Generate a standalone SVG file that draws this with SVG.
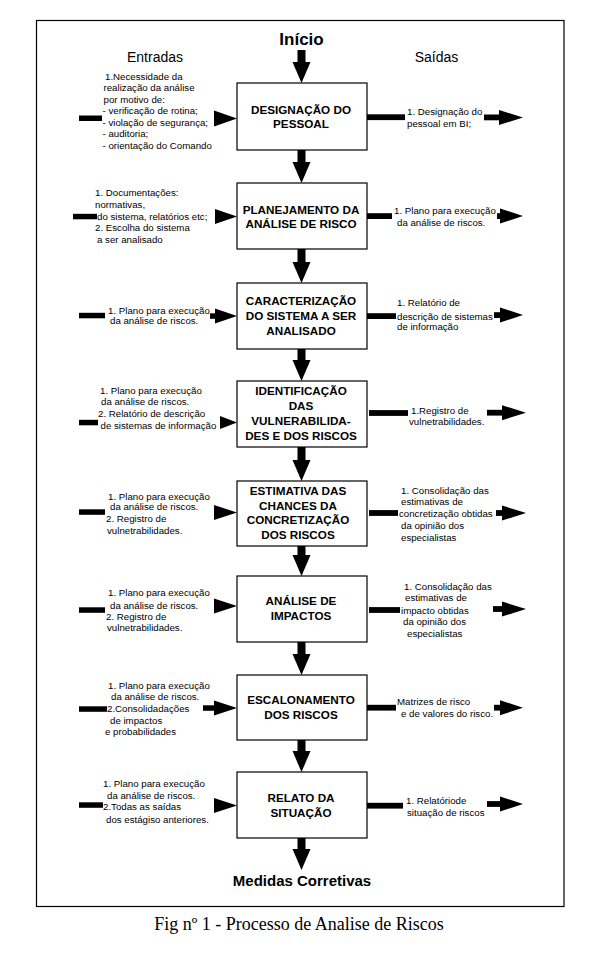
<svg xmlns="http://www.w3.org/2000/svg" width="597" height="954" viewBox="0 0 597 954">
<style>
.bg{fill:#fff}
.frame{fill:none;stroke:#000;stroke-width:1.2}
.box{fill:#fff;stroke:#000;stroke-width:1.2}
.bt{font-family:"Liberation Sans",Arial,sans-serif;font-weight:bold;font-size:11.7px;text-anchor:middle;fill:#000}
.st{font-family:"Liberation Sans",Arial,sans-serif;font-size:9.7px;fill:#000}
.hd{font-family:"Liberation Sans",Arial,sans-serif;font-size:14px;text-anchor:middle;fill:#000}
.tt{font-family:"Liberation Sans",Arial,sans-serif;font-weight:bold;text-anchor:middle;fill:#000}
.cap{font-family:"Liberation Serif","Times New Roman",serif;font-size:18px;text-anchor:middle;fill:#000}
.k{fill:#000}
</style>
<rect class="bg" x="0" y="0" width="597" height="954"/>
<rect class="frame" x="36.5" y="20.5" width="527.5" height="886"/>

<g id="labels">
<text class="tt" x="301.5" y="45" font-size="17">Início</text>
<text class="hd" x="155" y="62">Entradas</text>
<text class="hd" x="436.5" y="62">Saídas</text>
<text class="tt" x="302" y="886" font-size="15">Medidas Corretivas</text>
<text class="cap" x="299" y="930">Fig nº 1 - Processo de Analise de Riscos</text>
</g>

<g id="node-designacao">
<rect class="box" x="237" y="83" width="130" height="67"/>
<text class="bt" x="301" y="113.5">DESIGNAÇÃO DO</text>
<text class="bt" x="301" y="127.5">PESSOAL</text>
</g>
<g id="node-planejamento">
<rect class="box" x="237" y="183" width="130" height="66"/>
<text class="bt" x="301" y="214">PLANEJAMENTO DA</text>
<text class="bt" x="301" y="228">ANÁLISE DE RISCO</text>
</g>
<g id="node-caracterizacao">
<rect class="box" x="237" y="283" width="130" height="66"/>
<text class="bt" x="301" y="305">CARACTERIZAÇÃO</text>
<text class="bt" x="301" y="320">DO SISTEMA A SER</text>
<text class="bt" x="301" y="335">ANALISADO</text>
</g>
<g id="node-identificacao">
<rect class="box" x="237" y="381" width="130" height="66"/>
<text class="bt" x="301" y="395">IDENTIFICAÇÃO</text>
<text class="bt" x="301" y="410">DAS</text>
<text class="bt" x="301" y="425">VULNERABILIDA-</text>
<text class="bt" x="301" y="440">DES E DOS RISCOS</text>
</g>
<g id="node-estimativa">
<rect class="box" x="237" y="481" width="130" height="65"/>
<text class="bt" x="298" y="495">ESTIMATIVA DAS</text>
<text class="bt" x="298" y="509.5">CHANCES DA</text>
<text class="bt" x="298" y="524">CONCRETIZAÇÃO</text>
<text class="bt" x="298" y="538.5">DOS RISCOS</text>
</g>
<g id="node-analise">
<rect class="box" x="237" y="576" width="130" height="66"/>
<text class="bt" x="301" y="605">ANÁLISE DE</text>
<text class="bt" x="301" y="620">IMPACTOS</text>
</g>
<g id="node-escalonamento">
<rect class="box" x="237" y="675" width="130" height="65"/>
<text class="bt" x="301" y="703.5">ESCALONAMENTO</text>
<text class="bt" x="301" y="719">DOS RISCOS</text>
</g>
<g id="node-relato">
<rect class="box" x="237" y="772" width="130" height="66"/>
<text class="bt" x="301" y="802">RELATO DA</text>
<text class="bt" x="301" y="817">SITUAÇÃO</text>
</g>

<g id="connectors">
<g id="flow">
<rect class="k" x="297.5" y="50" width="8" height="12"/><polygon class="k" points="292.5,62 310.5,62 301.5,83"/>
<rect class="k" x="297.5" y="150" width="8" height="12"/><polygon class="k" points="292.5,162 310.5,162 301.5,183"/>
<rect class="k" x="297.5" y="249" width="8" height="13"/><polygon class="k" points="292.5,262 310.5,262 301.5,283"/>
<rect class="k" x="297.5" y="349" width="8" height="11"/><polygon class="k" points="292.5,360 310.5,360 301.5,381"/>
<rect class="k" x="297.5" y="447" width="8" height="13"/><polygon class="k" points="292.5,460 310.5,460 301.5,481"/>
<rect class="k" x="297.5" y="546" width="8" height="9"/><polygon class="k" points="292.5,555 310.5,555 301.5,576"/>
<rect class="k" x="297.5" y="642" width="8" height="12"/><polygon class="k" points="292.5,654 310.5,654 301.5,675"/>
<rect class="k" x="297.5" y="740" width="8" height="11"/><polygon class="k" points="292.5,751 310.5,751 301.5,772"/>
<rect class="k" x="297.5" y="838" width="8" height="11"/><polygon class="k" points="292.5,849 310.5,849 301.5,870"/>
</g>

<g id="in-1">
<rect class="k" x="79" y="115.5" width="23" height="5.5"/>
<polygon class="k" points="214,110.5 237,118.5 214,126.5"/>
<text class="st" x="105" y="79.5">1.Necessidade da</text>
<text class="st" x="103.5" y="91">realização da análise</text>
<text class="st" x="103.5" y="102.5">por motivo de:</text>
<text class="st" x="102.5" y="114">- verificação de rotina;</text>
<text class="st" x="102.5" y="125.5">- violação de segurança;</text>
<text class="st" x="102.5" y="137">- auditoria;</text>
<text class="st" x="102.5" y="148.8">- orientação do Comando</text>
</g>
<g id="in-2">
<rect class="k" x="73" y="213.8" width="24" height="5.5"/>
<polygon class="k" points="215,209 237,216.5 215,224"/>
<text class="st" x="95" y="196">1. Documentações:</text>
<text class="st" x="95" y="207.5">normativas,</text>
<text class="st" x="97" y="219.5">do sistema, relatórios etc;</text>
<text class="st" x="95" y="231">2. Escolha do sistema</text>
<text class="st" x="97" y="243">a ser analisado</text>
</g>
<g id="in-3">
<rect class="k" x="79" y="312.8" width="26" height="5.5"/>
<rect class="k" x="210" y="313.3" width="6" height="5.5"/>
<polygon class="k" points="215,308.5 237,316 215,323.5"/>
<text class="st" x="108" y="313.5">1. Plano para execução</text>
<text class="st" x="110" y="324">da análise de riscos.</text>
</g>
<g id="in-4">
<rect class="k" x="79" y="419.8" width="19" height="5.5"/>
<polygon class="k" points="220,416 237,422.5 220,429"/>
<text class="st" x="100" y="393.5">1. Plano para execução</text>
<text class="st" x="101" y="405">da análise de riscos.</text>
<text class="st" x="98" y="416.5">2. Relatório de descrição</text>
<text class="st" x="100.5" y="429">de sistemas de informação</text>
</g>
<g id="in-5">
<rect class="k" x="79" y="509.3" width="26" height="5.5"/>
<polygon class="k" points="214,505 237,512.5 214,520"/>
<text class="st" x="108" y="499.5">1. Plano para execução</text>
<text class="st" x="110" y="510">da análise de riscos.</text>
<text class="st" x="106" y="521.5">2. Registro de</text>
<text class="st" x="107" y="533.5">vulnetrabilidades.</text>
</g>
<g id="in-6">
<rect class="k" x="79" y="607.3" width="26" height="5.5"/>
<polygon class="k" points="214,598.5 237,606 214,613.5"/>
<text class="st" x="108" y="595.5">1. Plano para execução</text>
<text class="st" x="110" y="608.5">da análise de riscos.</text>
<text class="st" x="106" y="619.5">2. Registro de</text>
<text class="st" x="107" y="631">vulnetrabilidades.</text>
</g>
<g id="in-7">
<rect class="k" x="79" y="706.3" width="28" height="5.5"/>
<rect class="k" x="203" y="705.3" width="12" height="5.5"/>
<polygon class="k" points="214,700.5 237,708 214,715.5"/>
<text class="st" x="108" y="688.5">1. Plano para execução</text>
<text class="st" x="111" y="700">da análise de riscos.</text>
<text class="st" x="107" y="711.5">2.Consolidadações</text>
<text class="st" x="110" y="723.5">de impactos</text>
<text class="st" x="105" y="735">e probabilidades</text>
</g>
<g id="in-8">
<rect class="k" x="79" y="802.3" width="24" height="5.5"/>
<polygon class="k" points="214,798 237,805.5 214,813"/>
<text class="st" x="103" y="786.5">1. Plano para execução</text>
<text class="st" x="107" y="798.5">da análise de riscos.</text>
<text class="st" x="103" y="810">2.Todas as saídas</text>
<text class="st" x="106" y="822.5">dos estágiso anteriores.</text>
</g>

<g id="out-1">
<rect class="k" x="367" y="114.3" width="38" height="5.8"/>
<rect class="k" x="484" y="114.5" width="16" height="5.8"/>
<polygon class="k" points="499,110 523,117.5 499,125"/>
<text class="st" x="407" y="114.5">1. Designação do</text>
<text class="st" x="407" y="126.5">pessoal em BI;</text>
</g>
<g id="out-2">
<rect class="k" x="367" y="213.2" width="25" height="5.8"/>
<rect class="k" x="497" y="213.2" width="4" height="5.8"/>
<polygon class="k" points="500,208.5 523,216 500,223.5"/>
<text class="st" x="394" y="214">1. Plano para execução</text>
<text class="st" x="397" y="226">da análise de riscos.</text>
</g>
<g id="out-3">
<rect class="k" x="367" y="313.2" width="29" height="5.8"/>
<rect class="k" x="494" y="312.2" width="7" height="5.8"/>
<polygon class="k" points="500,307.5 523,315 500,322.5"/>
<text class="st" x="397" y="306">1. Relatório de</text>
<text class="st" x="397" y="319.5">descrição de sistemas</text>
<text class="st" x="397" y="330">de informação</text>
</g>
<g id="out-4">
<rect class="k" x="369" y="410.1" width="39" height="5.8"/>
<rect class="k" x="487" y="409.8" width="16" height="5.8"/>
<polygon class="k" points="502,405.2 526,412.7 502,420.2"/>
<text class="st" x="411" y="413.5">1.Registro de</text>
<text class="st" x="409" y="425">vulnetrabilidades.</text>
</g>
<g id="out-5">
<rect class="k" x="369" y="510.1" width="29" height="5.8"/>
<rect class="k" x="496" y="510.1" width="7" height="5.8"/>
<polygon class="k" points="502,505.5 526,513 502,520.5"/>
<text class="st" x="401" y="493.5">1. Consolidação das</text>
<text class="st" x="401" y="505">estimativas de</text>
<text class="st" x="399" y="516.5">concretização obtidas</text>
<text class="st" x="401" y="528.5">da opinião dos</text>
<text class="st" x="401" y="540.5">especialistas</text>
</g>
<g id="out-6">
<rect class="k" x="369" y="607.1" width="31" height="5.8"/>
<rect class="k" x="493" y="606.1" width="10" height="5.8"/>
<polygon class="k" points="502,601.5 526,609 502,616.5"/>
<text class="st" x="404" y="590">1. Consolidação das</text>
<text class="st" x="405" y="601">estimativas de</text>
<text class="st" x="401" y="613.5">impacto obtidas</text>
<text class="st" x="403" y="625">da opinião dos</text>
<text class="st" x="407" y="636.5">especialistas</text>
</g>
<g id="out-7">
<rect class="k" x="367" y="704.8" width="29" height="5.8"/>
<rect class="k" x="494" y="704.8" width="7" height="5.8"/>
<polygon class="k" points="500,700.2 523,707.7 500,715.2"/>
<text class="st" x="397" y="705">Matrizes de risco</text>
<text class="st" x="401" y="717">e de valores do risco.</text>
</g>
<g id="out-8">
<rect class="k" x="367" y="802.8" width="36" height="5.8"/>
<rect class="k" x="487" y="801.1" width="14" height="5.8"/>
<polygon class="k" points="500,796.5 523,804 500,811.5"/>
<text class="st" x="406" y="803.5">1. Relatóriode</text>
<text class="st" x="407" y="816">situação de riscos</text>
</g>
</g>
</svg>
